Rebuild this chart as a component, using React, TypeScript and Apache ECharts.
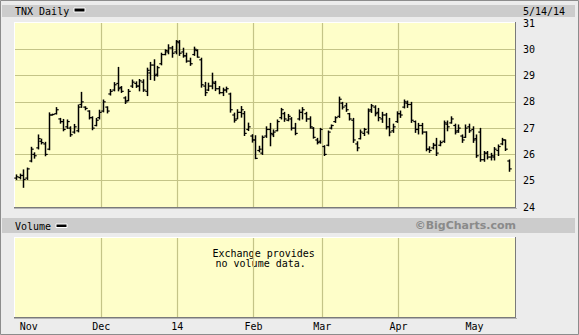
import React, { useEffect, useRef } from "react";
import * as echarts from "echarts";

// Month labels and the trading-day index of each month's first session
const monthLabels = ["Nov", "Dec", "14", "Feb", "Mar", "Apr", "May"];
const monthStartIdx = [4, 24, 45, 66, 85, 106, 127];

// Daily OHLC of TNX (10y yield x10), 2013-10-28 .. 2014-05-14, one entry per session
const high = [
  25.24, 25.27, 25.43, 25.5, 26.29, 26.08, 26.76, 26.6, 26.48, 27.6,
  27.55, 27.8, 27.39, 27.35, 27.33, 27.07, 27.16, 27.9, 28.38, 27.83,
  27.68, 27.45, 27.39, 27.7, 28.09, 27.83, 28.49, 28.75, 29.33, 28.6,
  28.21, 28.49, 28.85, 28.78, 28.87, 28.86, 29.3, 29.52, 29.62, 29.37,
  29.87, 30.0, 30.19, 30.13, 30.35, 30.35, 30.06, 29.87, 29.68, 30.1,
  30.0, 29.68, 28.76, 28.73, 29.11, 28.8, 28.6, 28.54, 28.58, 28.35,
  27.59, 27.72, 27.84, 27.65, 27.21, 26.77, 26.73, 26.33, 26.72, 27.07,
  27.2, 26.95, 27.33, 27.77, 27.62, 27.54, 27.42, 27.2, 27.71, 27.8,
  27.62, 27.45, 27.04, 26.63, 27.01, 26.35, 26.91, 27.14, 27.45, 28.2,
  28.0, 27.96, 27.58, 27.39, 26.5, 26.95, 27.01, 27.75, 27.92, 27.87,
  27.77, 27.62, 27.58, 27.39, 27.17, 27.64, 27.67, 28.09, 28.05, 28.0,
  27.29, 27.2, 27.2, 26.88, 26.31, 26.44, 26.63, 26.53, 27.29, 27.29,
  27.45, 27.17, 27.14, 26.76, 27.14, 27.17, 27.07, 26.76, 27.01, 26.13,
  26.13, 26.06, 26.28, 26.38, 26.63, 26.57, 25.81,
];
const low = [
  25.03, 25.05, 24.73, 25.03, 25.7, 25.84, 26.19, 26.38, 25.93, 26.16,
  27.48, 27.52, 27.17, 26.88, 26.97, 26.67, 26.79, 26.84, 27.77, 27.68,
  27.33, 26.92, 27.07, 27.33, 27.6, 27.56, 28.24, 28.4, 28.4, 28.34,
  27.92, 28.02, 28.53, 28.53, 28.4, 28.38, 28.22, 28.83, 28.8, 28.96,
  29.39, 29.77, 29.81, 29.68, 29.81, 29.75, 29.68, 29.49, 29.37, 29.75,
  29.68, 28.54, 28.22, 28.41, 28.48, 28.41, 28.29, 28.22, 28.35, 27.59,
  27.21, 27.34, 27.4, 26.7, 26.89, 26.45, 25.82, 26.08, 25.98, 26.63,
  26.31, 26.66, 26.88, 27.33, 27.24, 27.26, 26.91, 26.73, 27.29, 27.33,
  27.24, 26.98, 26.6, 26.38, 26.41, 25.94, 26.31, 26.95, 27.2, 27.39,
  27.71, 27.62, 27.29, 26.44, 26.12, 26.57, 26.7, 26.76, 27.58, 27.45,
  27.26, 27.2, 26.95, 26.69, 26.82, 27.2, 27.39, 27.75, 27.77, 27.2,
  26.82, 26.76, 26.76, 26.12, 26.06, 26.19, 25.94, 26.31, 26.44, 26.88,
  27.17, 26.76, 26.82, 26.44, 26.63, 26.82, 26.44, 25.87, 25.72, 25.72,
  25.81, 25.77, 25.77, 25.94, 26.35, 26.13, 25.34,
];
const open = [
  25.1, 25.12, 25.2, 25.1, 25.75, 26.0, 26.25, 26.5, 26.4, 26.2,
  27.5, 27.55, 27.35, 27.25, 27.05, 27.0, 26.85, 26.9, 27.9, 27.8,
  27.65, 27.4, 27.1, 27.4, 27.65, 27.8, 28.3, 28.45, 28.7, 28.55,
  28.15, 28.05, 28.6, 28.7, 28.6, 28.75, 28.4, 29.1, 29.4, 29.05,
  29.45, 29.8, 29.9, 30.05, 29.9, 30.25, 29.9, 29.75, 29.55, 29.8,
  29.95, 29.6, 28.6, 28.45, 28.6, 28.7, 28.5, 28.35, 28.45, 28.3,
  27.5, 27.35, 27.6, 27.55, 26.95, 26.7, 26.55, 26.15, 26.05, 26.7,
  26.95, 26.75, 26.9, 27.4, 27.55, 27.3, 27.35, 27.0, 27.35, 27.6,
  27.55, 27.35, 27.0, 26.55, 26.5, 26.3, 26.35, 27.0, 27.25, 27.45,
  27.95, 27.85, 27.55, 27.3, 26.4, 26.6, 26.8, 26.85, 27.7, 27.8,
  27.6, 27.35, 27.5, 27.05, 26.9, 27.25, 27.55, 27.8, 27.95, 27.9,
  27.25, 26.95, 27.1, 26.85, 26.2, 26.25, 26.35, 26.35, 26.5, 27.15,
  27.2, 27.1, 26.9, 26.7, 26.65, 27.05, 26.95, 26.6, 26.85, 25.8,
  26.05, 25.9, 25.9, 26.15, 26.4, 26.55, 25.75,
];
const close = [
  25.15, 25.2, 25.05, 25.45, 26.2, 25.95, 26.6, 26.45, 26.0, 27.5,
  27.52, 27.7, 27.25, 26.95, 27.25, 26.75, 27.05, 27.8, 28.0, 27.75,
  27.4, 27.0, 27.3, 27.6, 28.0, 27.65, 28.4, 28.65, 28.5, 28.4,
  28.0, 28.4, 28.75, 28.6, 28.8, 28.45, 29.2, 29.4, 29.0, 29.3,
  29.8, 29.95, 30.05, 29.85, 30.3, 29.85, 29.75, 29.55, 29.45, 30.0,
  29.7, 28.65, 28.35, 28.6, 28.75, 28.5, 28.35, 28.45, 28.5, 27.7,
  27.3, 27.6, 27.7, 26.8, 27.05, 26.55, 25.85, 26.2, 26.65, 26.95,
  26.8, 26.85, 27.25, 27.7, 27.35, 27.45, 27.0, 26.8, 27.6, 27.7,
  27.35, 27.05, 26.65, 26.45, 26.95, 26.0, 26.85, 27.1, 27.4, 28.1,
  27.8, 27.7, 27.35, 26.55, 26.25, 26.85, 26.95, 27.65, 27.85, 27.55,
  27.4, 27.5, 27.05, 26.85, 27.05, 27.55, 27.5, 28.0, 27.9, 27.3,
  26.95, 27.1, 26.85, 26.2, 26.15, 26.35, 26.05, 26.45, 27.2, 27.05,
  27.35, 26.85, 27.0, 26.55, 27.0, 26.9, 26.55, 25.95, 25.8, 26.05,
  25.9, 25.95, 26.2, 26.3, 26.55, 26.2, 25.45,
];

const yMin = 24;
const yMax = 31;

const MONO = "'DejaVu Sans Mono', monospace";
const GRID_COLOR = "#c4c487";
const PLOT_BG = "#fefec9";

export default function App() {
  const ref = useRef<HTMLDivElement>(null);

  useEffect(() => {
    if (!ref.current) return;
    const chart = echarts.init(ref.current, null, { renderer: "svg" });

    const gridPos = monthStartIdx.map((v) => v - 0.5);
    const fmtMonth = (val: number) => {
      const k = gridPos.findIndex((g) => Math.abs(g - val) < 0.01);
      return k >= 0 ? monthLabels[k] : "";
    };

    const ohlc = high.map((h, i) => [i, open[i], h, low[i], close[i]]);

    const xMin = -0.28;
    const xMax = 137.66;

    const xAxisBase = (gridIndex: number, showLabels: boolean) => ({
      type: "value",
      gridIndex,
      min: xMin,
      max: xMax,
      axisLine: { show: false },
      axisTick: { show: false, customValues: gridPos },
      axisLabel: {
        show: showLabels,
        customValues: gridPos,
        formatter: fmtMonth,
        fontFamily: MONO,
        fontSize: 10,
        color: "#000",
        margin: 4,
      },
      splitLine: {
        show: true,
        showMinLine: false,
        showMaxLine: false,
        lineStyle: { color: GRID_COLOR, width: 1.2 },
      },
    });

    const frame = (x0: number, y0: number, x1: number, y1: number) => [
      { type: "line", shape: { x1: x0, y1: y0 + 0.5, x2: x1, y2: y0 + 0.5 }, style: { stroke: "#ffffff", lineWidth: 1 } },
      { type: "line", shape: { x1: x0 + 0.5, y1: y0, x2: x0 + 0.5, y2: y1 }, style: { stroke: "#ffffff", lineWidth: 1 } },
      { type: "line", shape: { x1: x0, y1: y1 + 0.5, x2: x1 + 1, y2: y1 + 0.5 }, style: { stroke: "#7a7a7a", lineWidth: 1 } },
      { type: "line", shape: { x1: x1 + 0.5, y1: y0, x2: x1 + 0.5, y2: y1 + 1 }, style: { stroke: "#7a7a7a", lineWidth: 1 } },
      { type: "line", shape: { x1: x0, y1: y1 + 1.5, x2: x1 + 2, y2: y1 + 1.5 }, style: { stroke: "#b4b4b4", lineWidth: 1 } },
    ];

    chart.setOption({
      animation: false,
      backgroundColor: "#ececec",
      grid: [
        { left: 15, top: 23, width: 500, height: 184, show: true, backgroundColor: PLOT_BG, borderWidth: 0 },
        { left: 15, top: 238, width: 500, height: 79, show: true, backgroundColor: PLOT_BG, borderWidth: 0 },
      ],
      xAxis: [xAxisBase(0, false), xAxisBase(1, true)],
      yAxis: [
        {
          type: "value",
          gridIndex: 0,
          position: "right",
          min: yMin,
          max: yMax,
          interval: 1,
          axisLine: { show: false },
          axisTick: { show: false },
          axisLabel: { fontFamily: MONO, fontSize: 10, color: "#000", margin: 8 },
          splitLine: {
            show: true,
            showMinLine: false,
            showMaxLine: false,
            lineStyle: { color: GRID_COLOR, width: 1.2 },
          },
        },
        {
          type: "value",
          gridIndex: 1,
          min: 0,
          max: 1,
          show: false,
          splitLine: { show: false },
        },
      ],
      series: [
        {
          type: "custom",
          xAxisIndex: 0,
          yAxisIndex: 0,
          data: ohlc,
          encode: { x: 0, y: [1, 2, 3, 4] },
          renderItem: (params: any, api: any) => {
            const i = api.value(0);
            const o = api.coord([i, api.value(1)]);
            const h = api.coord([i, api.value(2)]);
            const l = api.coord([i, api.value(3)]);
            const c = api.coord([i, api.value(4)]);
            const x = Math.round(h[0]) + 0.5;
            const st = { stroke: "#000", lineWidth: 1.5 };
            return {
              type: "group",
              children: [
                { type: "line", shape: { x1: x, y1: h[1], x2: x, y2: l[1] }, style: st },
                { type: "line", shape: { x1: x - 2.2, y1: o[1], x2: x, y2: o[1] }, style: { stroke: "#000", lineWidth: 1.2 } },
                { type: "line", shape: { x1: x, y1: c[1], x2: x + 2.2, y2: c[1] }, style: { stroke: "#000", lineWidth: 1.2 } },
              ],
            };
          },
        },
        {
          type: "line",
          xAxisIndex: 1,
          yAxisIndex: 1,
          data: [],
          silent: true,
        },
      ],
      graphic: [
        { type: "rect", shape: { x: 0.5, y: 0.5, width: 578, height: 334 }, style: { fill: "none", stroke: "#8c8c8c", lineWidth: 1 } },
        { type: "rect", shape: { x: 2, y: 5, width: 573, height: 12 }, style: { fill: "#cccccc" } },
        { type: "rect", shape: { x: 2, y: 218, width: 573, height: 15 }, style: { fill: "#cccccc" } },
        { type: "text", x: 15, y: 11, style: { text: "TNX Daily", font: `10px ${MONO}`, fill: "#000", textVerticalAlign: "middle" } },
        { type: "rect", shape: { x: 74, y: 8, width: 11, height: 4 }, style: { fill: "#000", stroke: "#fff", lineWidth: 1 } },
        { type: "text", x: 523, y: 11, style: { text: "5/14/14", font: `10px ${MONO}`, fill: "#000", textVerticalAlign: "middle" } },
        { type: "text", x: 15, y: 226, style: { text: "Volume", font: `10px ${MONO}`, fill: "#000", textVerticalAlign: "middle" } },
        { type: "rect", shape: { x: 56, y: 224, width: 11, height: 3.5 }, style: { fill: "#000", stroke: "#fff", lineWidth: 1 } },
        { type: "text", x: 516, y: 225.5, style: { text: "©BigCharts.com", font: `bold 11px 'DejaVu Sans', sans-serif`, fill: "#8a8a8a", textAlign: "right", textVerticalAlign: "middle" } },
        { type: "text", x: 212.5, y: 253, style: { text: "Exchange provides", font: `10px ${MONO}`, fill: "#000", textVerticalAlign: "middle" } },
        { type: "text", x: 215.5, y: 263, style: { text: "no volume data.", font: `10px ${MONO}`, fill: "#000", textVerticalAlign: "middle" } },
        ...frame(14, 22, 515, 207),
        ...frame(14, 237, 515, 317),
      ],
    });

    return () => chart.dispose();
  }, []);

  return (
    <div
      ref={ref}
      style={{ position: "fixed", left: 0, top: 0, width: 579, height: 335 }}
    />
  );
}
